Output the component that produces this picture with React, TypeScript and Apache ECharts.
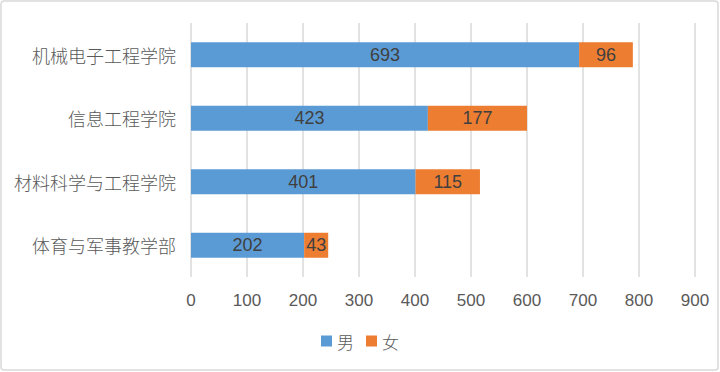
import React, { useEffect, useRef } from "react";
import * as echarts from "echarts";

const categories = ["体育与军事教学部", "材料科学与工程学院", "信息工程学院", "机械电子工程学院"];
const maleValues = [202, 401, 423, 693];
const femaleValues = [43, 115, 177, 96];
const seriesNames = ["男", "女"];

export default function App() {
  const ref = useRef<HTMLDivElement>(null);
  useEffect(() => {
    if (!ref.current) return;
    const chart = echarts.init(ref.current, null, { renderer: "svg" });
    const font = "'Noto Sans CJK SC', 'Liberation Sans', sans-serif";
    const label = {
      show: true,
      position: "inside",
      color: "#404040",
      fontSize: 18,
      fontFamily: "'Liberation Sans', 'Noto Sans CJK SC', sans-serif",
    };
    chart.setOption({
      animation: false,
      backgroundColor: "#ffffff",
      graphic: [
        {
          type: "rect",
          shape: { x: 1, y: 1, width: 717, height: 369, r: 3 },
          style: { fill: "none", stroke: "#d9d9d9", lineWidth: 1.5 },
          silent: true,
        },
      ],
      legend: {
        data: seriesNames,
        top: 326,
        left: "center",
        itemWidth: 11,
        itemHeight: 11,
        itemGap: 12,
        icon: "rect",
        textStyle: { color: "#595959", fontSize: 17, fontFamily: font, fontWeight: 300, lineHeight: 20 },
      },
      grid: { left: 191, right: 25, top: 23, bottom: 95 },
      xAxis: {
        type: "value",
        min: 0,
        max: 900,
        interval: 100,
        axisLine: { show: false },
        axisTick: { show: false },
        splitLine: { show: true, lineStyle: { color: "#d9d9d9", width: 1.5 } },
        axisLabel: {
          color: "#595959",
          fontSize: 17,
          margin: 15,
          fontFamily: "'Liberation Sans', sans-serif",
        },
      },
      yAxis: {
        type: "category",
        data: categories,
        axisLine: { show: false },
        axisTick: { show: false },
        axisLabel: { color: "#595959", fontSize: 18, margin: 15, fontFamily: font, fontWeight: 300 },
      },
      series: [
        {
          name: seriesNames[0],
          type: "bar",
          stack: "total",
          data: maleValues,
          barWidth: 25,
          itemStyle: { color: "#5B9BD5" },
          label,
        },
        {
          name: seriesNames[1],
          type: "bar",
          stack: "total",
          data: femaleValues,
          barWidth: 25,
          itemStyle: { color: "#ED7D31" },
          label,
        },
      ],
    });
    return () => chart.dispose();
  }, []);
  return (
    <div
      ref={ref}
      style={{ position: "fixed", left: 0, top: 0, width: 720, height: 372 }}
    />
  );
}
